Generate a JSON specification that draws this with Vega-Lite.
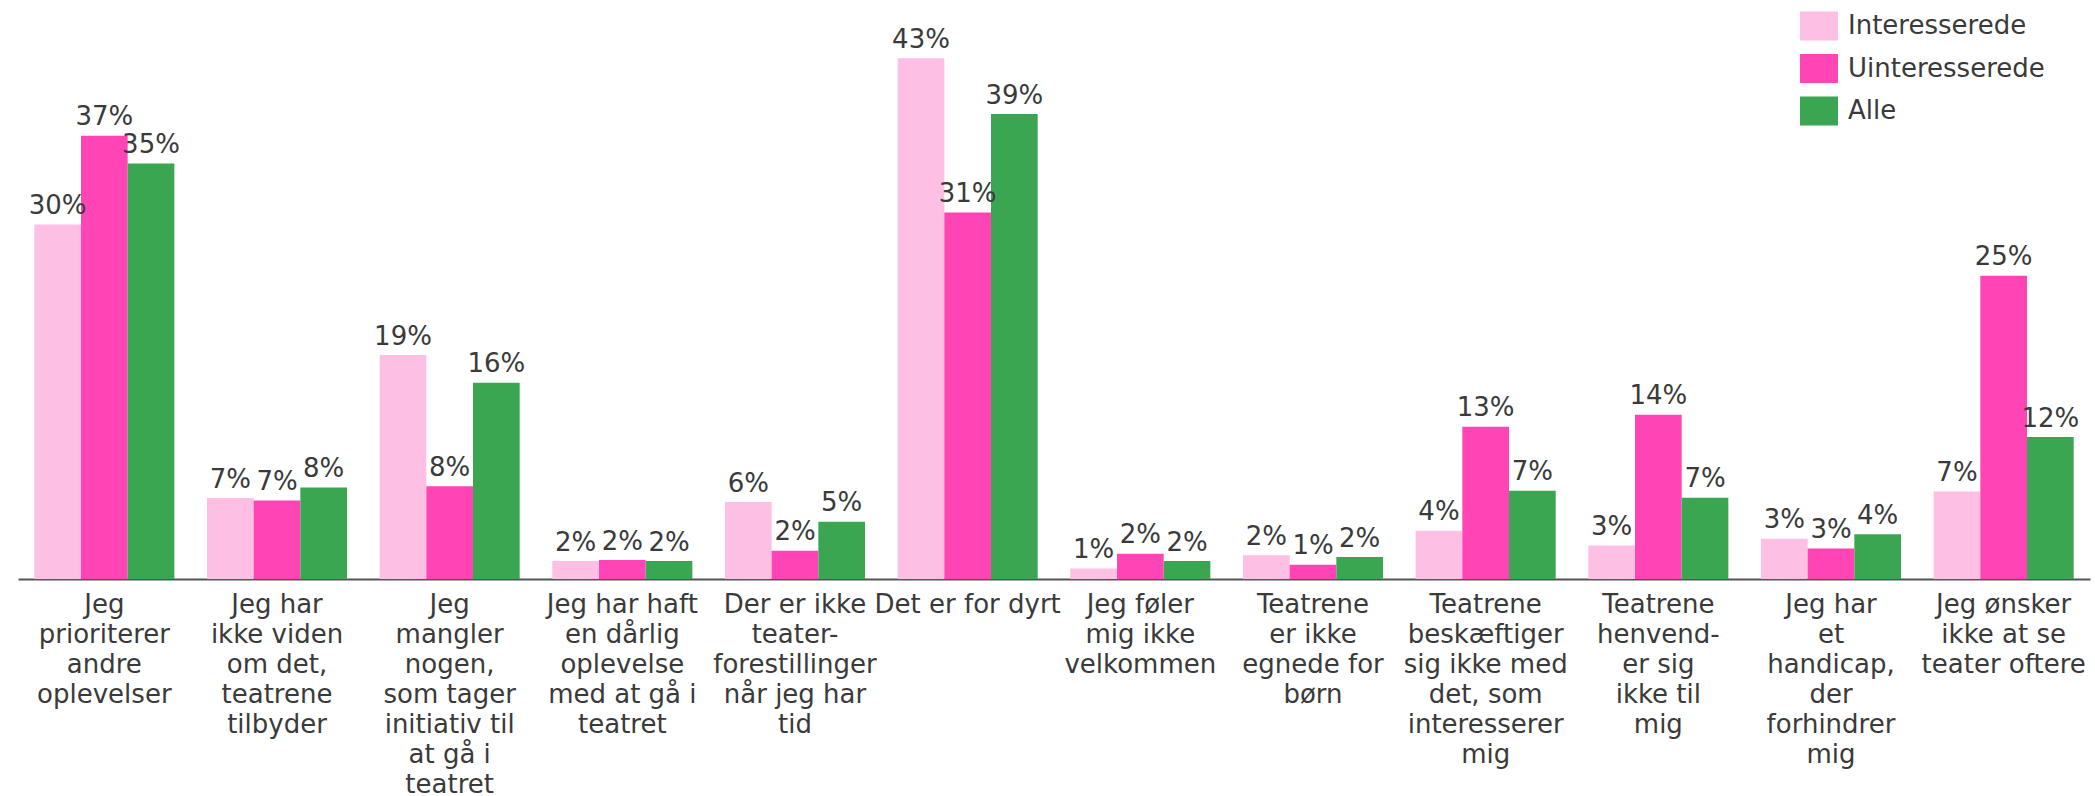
{
  "$schema": "https://vega.github.io/schema/vega-lite/v6.json",
  "width": 2072,
  "height": 579,
  "autosize": {"type": "none"},
  "padding": {"left": 18, "top": 0, "right": 5, "bottom": 217},
  "background": "white",
  "config": {
    "view": {"stroke": null},
    "font": "DejaVu Sans",
    "text": {"font": "DejaVu Sans"}
  },
  "data": {
    "values": [
      {"aarsag": "Jeg\nprioriterer\nandre\noplevelser", "gruppe": "Interesserede", "andel": 0.2955},
      {"aarsag": "Jeg\nprioriterer\nandre\noplevelser", "gruppe": "Uinteresserede", "andel": 0.3694},
      {"aarsag": "Jeg\nprioriterer\nandre\noplevelser", "gruppe": "Alle", "andel": 0.3463},
      {"aarsag": "Jeg har\nikke viden\nom det,\nteatrene\ntilbyder", "gruppe": "Interesserede", "andel": 0.0674},
      {"aarsag": "Jeg har\nikke viden\nom det,\nteatrene\ntilbyder", "gruppe": "Uinteresserede", "andel": 0.0655},
      {"aarsag": "Jeg har\nikke viden\nom det,\nteatrene\ntilbyder", "gruppe": "Alle", "andel": 0.0763},
      {"aarsag": "Jeg\nmangler\nnogen,\nsom tager\ninitiativ til\nat gå i\nteatret", "gruppe": "Interesserede", "andel": 0.1866},
      {"aarsag": "Jeg\nmangler\nnogen,\nsom tager\ninitiativ til\nat gå i\nteatret", "gruppe": "Uinteresserede", "andel": 0.0772},
      {"aarsag": "Jeg\nmangler\nnogen,\nsom tager\ninitiativ til\nat gå i\nteatret", "gruppe": "Alle", "andel": 0.1636},
      {"aarsag": "Jeg har haft\nen dårlig\noplevelse\nmed at gå i\nteatret", "gruppe": "Interesserede", "andel": 0.0150},
      {"aarsag": "Jeg har haft\nen dårlig\noplevelse\nmed at gå i\nteatret", "gruppe": "Uinteresserede", "andel": 0.0158},
      {"aarsag": "Jeg har haft\nen dårlig\noplevelse\nmed at gå i\nteatret", "gruppe": "Alle", "andel": 0.0150},
      {"aarsag": "Der er ikke\nteater-\nforestillinger\nnår jeg har\ntid", "gruppe": "Interesserede", "andel": 0.0641},
      {"aarsag": "Der er ikke\nteater-\nforestillinger\nnår jeg har\ntid", "gruppe": "Uinteresserede", "andel": 0.0236},
      {"aarsag": "Der er ikke\nteater-\nforestillinger\nnår jeg har\ntid", "gruppe": "Alle", "andel": 0.0477},
      {"aarsag": "Det er for dyrt", "gruppe": "Interesserede", "andel": 0.4340},
      {"aarsag": "Det er for dyrt", "gruppe": "Uinteresserede", "andel": 0.3055},
      {"aarsag": "Det er for dyrt", "gruppe": "Alle", "andel": 0.3875},
      {"aarsag": "Jeg føler\nmig ikke\nvelkommen", "gruppe": "Interesserede", "andel": 0.0088},
      {"aarsag": "Jeg føler\nmig ikke\nvelkommen", "gruppe": "Uinteresserede", "andel": 0.0210},
      {"aarsag": "Jeg føler\nmig ikke\nvelkommen", "gruppe": "Alle", "andel": 0.0150},
      {"aarsag": "Teatrene\ner ikke\negnede for\nbørn", "gruppe": "Interesserede", "andel": 0.0197},
      {"aarsag": "Teatrene\ner ikke\negnede for\nbørn", "gruppe": "Uinteresserede", "andel": 0.0119},
      {"aarsag": "Teatrene\ner ikke\negnede for\nbørn", "gruppe": "Alle", "andel": 0.0183},
      {"aarsag": "Teatrene\nbeskæftiger\nsig ikke med\ndet, som\ninteresserer\nmig", "gruppe": "Interesserede", "andel": 0.0403},
      {"aarsag": "Teatrene\nbeskæftiger\nsig ikke med\ndet, som\ninteresserer\nmig", "gruppe": "Uinteresserede", "andel": 0.1269},
      {"aarsag": "Teatrene\nbeskæftiger\nsig ikke med\ndet, som\ninteresserer\nmig", "gruppe": "Alle", "andel": 0.0736},
      {"aarsag": "Teatrene\nhenvend-\ner sig\nikke til\nmig", "gruppe": "Interesserede", "andel": 0.0280},
      {"aarsag": "Teatrene\nhenvend-\ner sig\nikke til\nmig", "gruppe": "Uinteresserede", "andel": 0.1369},
      {"aarsag": "Teatrene\nhenvend-\ner sig\nikke til\nmig", "gruppe": "Alle", "andel": 0.0678},
      {"aarsag": "Jeg har\net\nhandicap,\nder\nforhindrer\nmig", "gruppe": "Interesserede", "andel": 0.0336},
      {"aarsag": "Jeg har\net\nhandicap,\nder\nforhindrer\nmig", "gruppe": "Uinteresserede", "andel": 0.0255},
      {"aarsag": "Jeg har\net\nhandicap,\nder\nforhindrer\nmig", "gruppe": "Alle", "andel": 0.0372},
      {"aarsag": "Jeg ønsker\nikke at se\nteater oftere", "gruppe": "Interesserede", "andel": 0.0730},
      {"aarsag": "Jeg ønsker\nikke at se\nteater oftere", "gruppe": "Uinteresserede", "andel": 0.2528},
      {"aarsag": "Jeg ønsker\nikke at se\nteater oftere", "gruppe": "Alle", "andel": 0.1183}
    ]
  },
  "encoding": {
    "x": {
      "field": "aarsag",
      "type": "nominal",
      "sort": null,
      "scale": {"paddingInner": 0.189, "paddingOuter": 0.0945},
      "axis": {
        "title": null,
        "labelAngle": 0,
        "labelExpr": "split(datum.label, '\\n')",
        "labelFont": "DejaVu Sans",
        "labelFontSize": 26,
        "labelLineHeight": 30,
        "labelColor": "#3a3a3a",
        "labelBaseline": "top",
        "labelPadding": 12,
        "labelLimit": 0,
        "ticks": false,
        "domainColor": "#555555",
        "domainWidth": 2,
        "grid": false
      }
    },
    "xOffset": {
      "field": "gruppe",
      "type": "nominal",
      "sort": ["Interesserede", "Uinteresserede", "Alle"],
      "scale": {"paddingInner": 0, "paddingOuter": 0}
    },
    "y": {
      "field": "andel",
      "type": "quantitative",
      "scale": {"domain": [0, 0.4825], "nice": false, "zero": true},
      "axis": null
    }
  },
  "layer": [
    {
      "mark": {"type": "bar"},
      "encoding": {
        "color": {
          "field": "gruppe",
          "type": "nominal",
          "sort": ["Interesserede", "Uinteresserede", "Alle"],
          "scale": {
            "domain": ["Interesserede", "Uinteresserede", "Alle"],
            "range": ["#fdbfe3", "#ff45b5", "#3aa652"]
          },
          "legend": {
            "title": null,
            "orient": "none",
            "legendX": 1782,
            "legendY": 7,
            "padding": 0,
            "symbolType": "M-1,-0.763H1V0.763H-1Z",
            "symbolSize": 1444,
            "symbolStrokeWidth": 0,
            "labelFont": "DejaVu Sans",
            "labelFontSize": 26,
            "labelColor": "#3a3a3a",
            "labelOffset": 10,
            "rowPadding": 8.5,
            "labelLimit": 0
          }
        }
      }
    },
    {
      "mark": {
        "type": "text",
        "baseline": "alphabetic",
        "align": "center",
        "dy": -10.5,
        "fontSize": 26,
        "font": "DejaVu Sans",
        "color": "#3a3a3a"
      },
      "encoding": {
        "text": {"field": "andel", "type": "quantitative", "format": ".0%"}
      }
    }
  ]
}
